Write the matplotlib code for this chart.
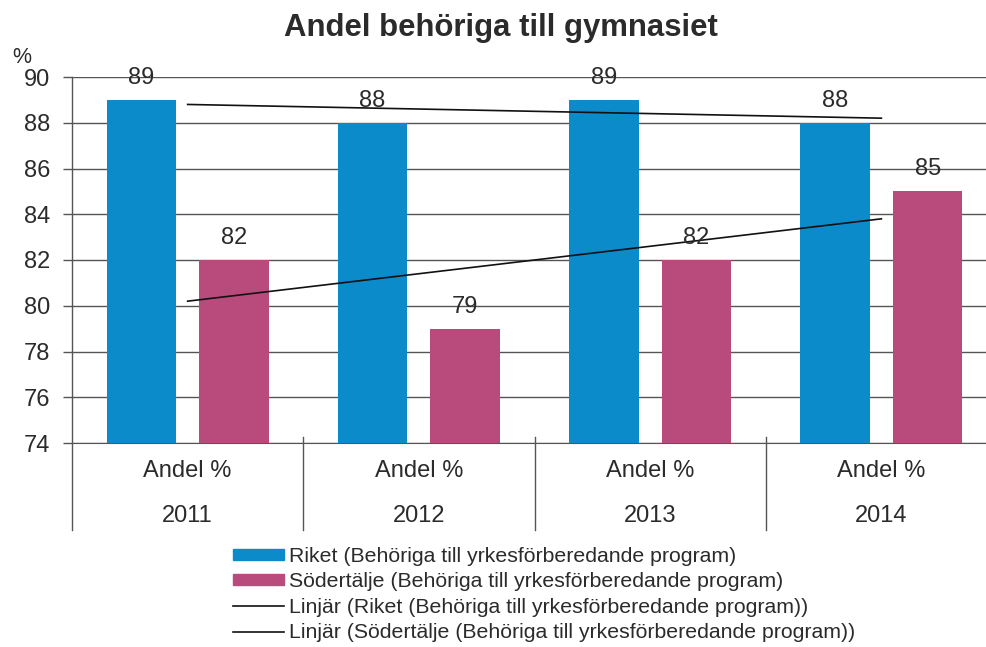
import numpy as np
import matplotlib
matplotlib.use("Agg")
import matplotlib.pyplot as plt
from matplotlib.patches import Patch
from matplotlib.lines import Line2D

plt.rcParams["font.family"] = ["Liberation Sans", "DejaVu Sans"]

# data
years = ["2011", "2012", "2013", "2014"]
group_label = "Andel %"
riket = [89, 88, 89, 88]
sodertalje = [82, 79, 82, 85]
series_names = [
    "Riket (Behöriga till yrkesförberedande program)",
    "Södertälje (Behöriga till yrkesförberedande program)",
    "Linjär (Riket (Behöriga till yrkesförberedande program))",
    "Linjär (Södertälje (Behöriga till yrkesförberedande program))",
]
y_ticks = [74, 76, 78, 80, 82, 84, 86, 88, 90]

BLUE = "#0b8bc9"
PINK = "#b84a7c"
TXT = "#2b2b2b"
GRID = "#555555"

fig = plt.figure(figsize=(9.86, 6.47), dpi=100)
ax = fig.add_axes([72 / 986, 1 - 443 / 647, 925 / 986, 366 / 647])

x = np.arange(len(years))
w = 0.30
off = 0.20
ax.bar(x - off, riket, w, color=BLUE, zorder=3)
ax.bar(x + off, sodertalje, w, color=PINK, zorder=3)

# value labels above the bars
for xs, vals in ((x - off, riket), (x + off, sodertalje)):
    for xi, v in zip(xs, vals):
        ax.annotate(str(v), (xi, v), xytext=(0, 22), textcoords="offset pixels",
                    ha="center", va="center", fontsize=17, color=TXT, zorder=5)

# linear trend lines (least squares over the four years)
for vals in (riket, sodertalje):
    k, m = np.polyfit(x, vals, 1)
    ax.plot(x, k * x + m, color="#111111", lw=1.2, zorder=4)

ax.set_xlim(-0.5, 3.5)
ax.set_ylim(74, 90)
ax.set_yticks(y_ticks)
ax.tick_params(axis="y", length=6.5, width=1, color=GRID, labelsize=17,
               labelcolor=TXT, pad=9)
ax.set_xticks([])
ax.grid(axis="y", color=GRID, lw=1, zorder=0)
ax.set_axisbelow(True)
for s in ("top", "right", "left"):
    ax.spines[s].set_visible(False)
ax.spines["bottom"].set_color(GRID)

# category axis below the plot
xt = ax.get_xaxis_transform()
for xi, yr in zip(x, years):
    ax.text(xi, -0.0765, group_label, transform=xt, ha="center", va="center",
            fontsize=17, color=TXT)
    ax.text(xi, -0.2, yr, transform=xt, ha="center", va="center",
            fontsize=17, color=TXT)
for xb in (0.5, 1.5, 2.5):
    ax.plot([xb, xb], [0.016, -0.238], transform=xt, color=GRID, lw=1,
            clip_on=False)
ax.plot([-0.5, -0.5], [1.0, -0.238], transform=xt, color=GRID, lw=1,
        clip_on=False)

ax.text(-0.054, 1.052, "%", transform=ax.transAxes, fontsize=15.5, color=TXT,
        ha="center", va="center")

fig.text(0.508, 0.957, "Andel behöriga till gymnasiet", ha="center",
         va="center", fontsize=22.4, fontweight="bold", color=TXT)

handles = [
    Patch(color=BLUE),
    Patch(color=PINK),
    Line2D([], [], color="#111111", lw=1.2),
    Line2D([], [], color="#111111", lw=1.2),
]
fig.legend(handles, series_names, loc="upper left",
           bbox_to_anchor=(233 / 986, 1 - 547 / 647), frameon=False,
           fontsize=15.3, handlelength=2.4, handleheight=0.4,
           handletextpad=0.25, labelspacing=0.30, borderpad=0,
           borderaxespad=0, labelcolor=TXT)

fig.savefig("out.png", dpi=100)
